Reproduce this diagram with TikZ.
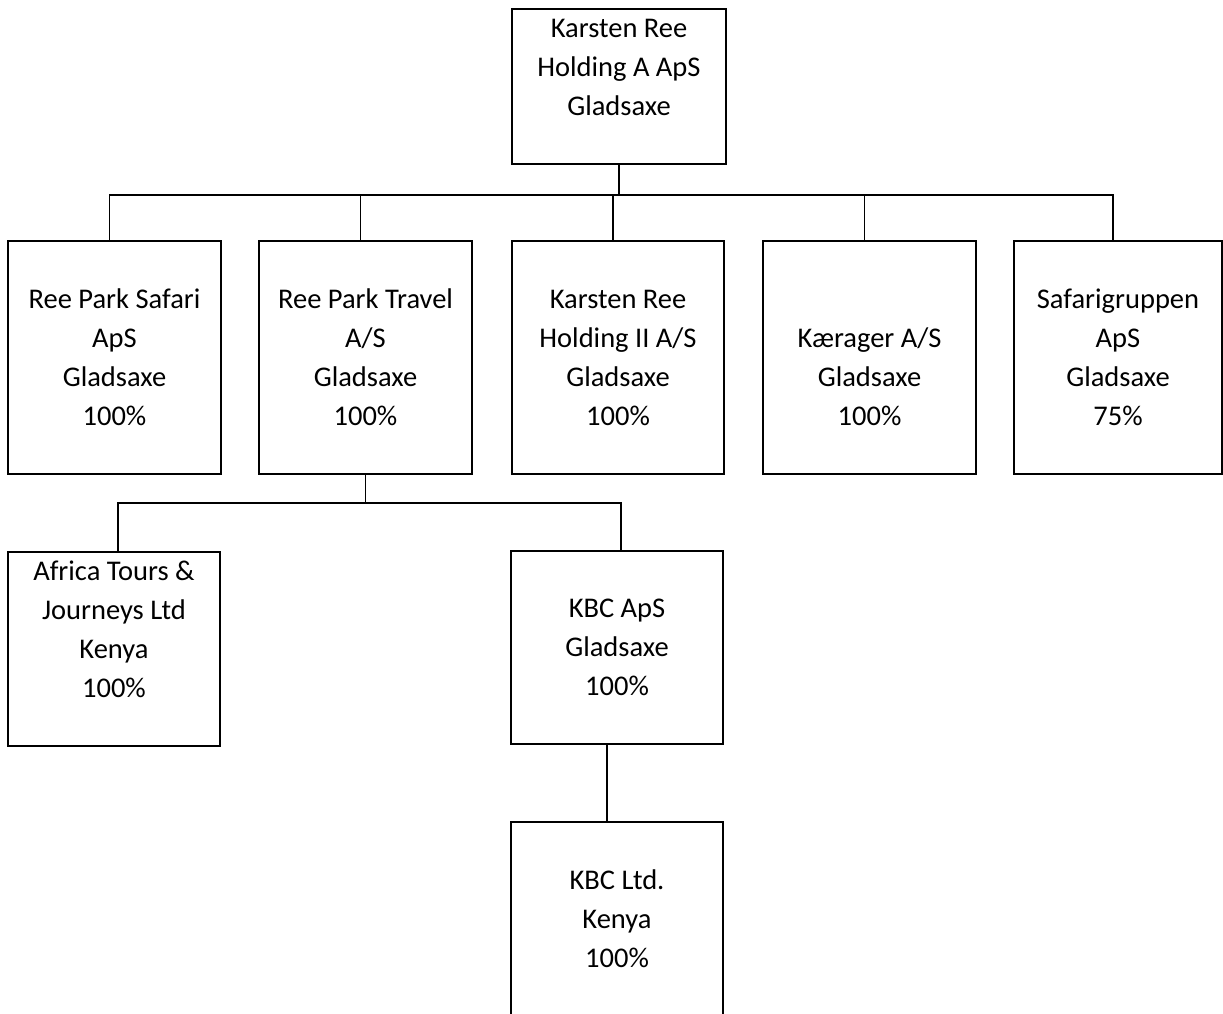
\documentclass[tikz,border=0pt]{standalone}
\usepackage{fontspec}
\setmainfont{Carlito}
\usetikzlibrary{positioning}

\begin{document}
\begin{tikzpicture}[x=1pt, y=-1pt, line width=1.8pt,
co/.style={draw, rectangle, inner sep=0pt, minimum width=213pt, minimum height=233pt,
  align=center, font=\fontsize{28.5}{39}\selectfont}]
\useasboundingbox (0,0) rectangle (1223,1014);
\node[co, minimum width=214pt, minimum height=155pt] (own) at (619,86.5) {Karsten Ree\\Holding A ApS\\Gladsaxe\\\mbox{}};
\node[co] (safari) at (114.5,357.5) {Ree Park Safari\\ApS\\Gladsaxe\\100\%};
\node[co] (travel) at (365.5,357.5) {Ree Park Travel\\A/S\\Gladsaxe\\100\%};
\node[co, minimum width=212pt] (holding) at (618,357.5) {Karsten Ree\\Holding II A/S\\Gladsaxe\\100\%};
\node[co] (kaerager) at (869.5,357.5) {\vphantom{k}\\Kærager A/S\\Gladsaxe\\100\%};
\node[co, minimum width=208pt] (gruppen) at (1118,357.5) {Safarigruppen\\ApS\\Gladsaxe\\75\%};
\node[co, minimum width=212pt, minimum height=194pt] (africa) at (114,649) {Africa Tours \&\\Journeys Ltd\\Kenya\\100\%\\\mbox{}};
\node[co, minimum width=212pt, minimum height=193pt] (kbc) at (617,647.5) {KBC ApS\\Gladsaxe\\100\%};
\node[co, minimum width=212pt, minimum height=194pt] (kbcltd) at (617,919) {KBC Ltd.\\Kenya\\100\%};
\path (own.south) ++(0,30) coordinate (bus);
\draw (own.south) -- (bus);
\foreach \n in {safari,travel,holding,kaerager,gruppen}
  \draw ([xshift=-5pt]\n.north) |- (bus);
\path (travel.south) ++(0,28) coordinate (bus2);
\draw (travel.south) -- (bus2);
\foreach \n in {africa,kbc}
  \draw ([xshift=4pt]\n.north) |- (bus2);
\draw ([xshift=-10pt]kbc.south) -- ([xshift=-10pt]kbcltd.north);
\end{tikzpicture}
\end{document}
